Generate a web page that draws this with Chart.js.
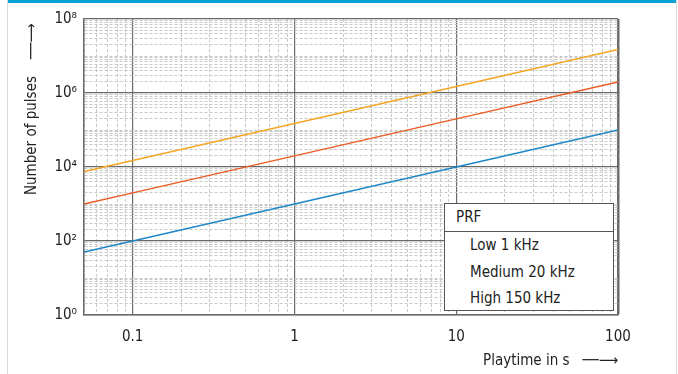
<!DOCTYPE html>
<html>
<head>
<meta charset="utf-8">
<script src="https://cdn.jsdelivr.net/npm/chart.js@4.4.1/dist/chart.umd.min.js"></script>
<style>
  html, body { margin: 0; padding: 0; background: #fff; }
  #wrap { position: relative; width: 678px; height: 374px; overflow: hidden; }
  #topbar { position: absolute; left: 8px; right: 2px; top: 0; height: 3px; background: #0aa0d6; }
  #lborder { position: absolute; left: 7px; top: 0; bottom: 0; width: 1px; background: #d5dadf; }
  #rborder { position: absolute; right: 1px; top: 0; bottom: 0; width: 1px; background: #d5dadf; }
  #legend { position: absolute; left: 444px; top: 203px; width: 168px; height: 106px; border: 1px solid #555;
    background: #fff; font-family: "DejaVu Sans Condensed", sans-serif; font-size: 15px; color: #222; }
  #legend .hd { height: 27px; line-height: 27px; padding-left: 11px; border-bottom: 1px solid #555; }
  #legend .it { height: 26.5px; line-height: 27px; padding-left: 25px; }
</style>
</head>
<body>
<div id="wrap">
  <canvas id="myChart1" width="678" height="374"></canvas>
  <div id="topbar"></div>
  <div id="lborder"></div>
  <div id="rborder"></div>
  <div id="legend">
    <div class="hd" id="legTitle"></div>
  </div>
</div>
<script>
// playtime in s (x) and number of pulses (y)
var playtime = [0.05, 0.1, 1, 10, 100];
var pulsesLow = [50, 100, 1000, 10000, 100000];
var pulsesMedium = [1000, 2000, 20000, 200000, 2000000];
var pulsesHigh = [7500, 15000, 150000, 1500000, 15000000];

var seriesNames = ['Low 1 kHz', 'Medium 20 kHz', 'High 150 kHz'];
var seriesColors = ['#1e88c8', '#ee5a24', '#f5a623'];
var legendTitle = 'PRF';

var xTickLabels = ['0.1', '1', '10', '100'];
var yTickLabels = ['10\u2070', '10\u00b2', '10\u2074', '10\u2076', '10\u2078'];
var xMin = 0.05, xMax = 100, yMin = 1, yMax = 1e8;

var FONT = '"DejaVu Sans Condensed", sans-serif';
var ARROW = '\u2500\u2500\u27f6';

// legend box
document.getElementById('legTitle').textContent = legendTitle;
seriesNames.forEach(function (n) {
    var d = document.createElement('div');
    d.className = 'it';
    d.textContent = n;
    document.getElementById('legend').appendChild(d);
});

function pts(ys) {
    return playtime.map(function (x, i) { return { x: x, y: ys[i] }; });
}

function logTicks(min, max) {
    var out = [];
    var e0 = Math.floor(Math.log10(min) + 1e-9), e1 = Math.ceil(Math.log10(max) - 1e-9);
    for (var e = e0; e <= e1; e++) {
        for (var m = 1; m <= 9; m++) {
            var v = +(m * Math.pow(10, e)).toPrecision(6);
            if (v >= min - 1e-12 && v <= max + 1e-9) out.push({ value: v });
        }
    }
    return out;
}
function isDecade(v) {
    var l = Math.log10(v);
    return Math.abs(l - Math.round(l)) < 1e-6;
}
function yMajor(v) {
    return isDecade(v) && Math.round(Math.log10(v)) % 2 === 0;
}

var datasets = [pulsesLow, pulsesMedium, pulsesHigh].map(function (ys, i) {
    return {
        label: seriesNames[i],
        data: pts(ys),
        borderColor: seriesColors[i],
        backgroundColor: seriesColors[i],
        borderWidth: 1.5,
        pointRadius: 0,
        tension: 0
    };
});

var ctx = document.getElementById('myChart1');
var myChart = new Chart(ctx, {
    type: 'line',
    data: { datasets: datasets },
    options: {
        responsive: false,
        animation: false,
        layout: { padding: { left: 0, top: 19, right: 60, bottom: 0 } },
        plugins: { legend: { display: false }, tooltip: { enabled: false } },
        scales: {
            x: {
                type: 'logarithmic',
                min: xMin, max: xMax,
                afterBuildTicks: function (s) { s.ticks = logTicks(xMin, xMax); },
                afterFit: function (s) { s.height = 59; },
                ticks: {
                    autoSkip: false, maxRotation: 0, padding: 13,
                    color: '#222', font: { family: FONT, size: 15 },
                    callback: function (v) {
                        if (!isDecade(v)) return '';
                        var s = String(+v.toPrecision(6));
                        return xTickLabels.indexOf(s) >= 0 ? s : '';
                    }
                },
                grid: {
                    drawTicks: false,
                    color: function (c) { return isDecade(c.tick.value) ? '#6a6a6a' : '#c9c9c9'; },
                    lineWidth: function (c) { return c.tick.value === xMax ? 2.5 : (isDecade(c.tick.value) ? 1.2 : 1); }
                },
                border: {
                    display: true, color: '#6a6a6a', width: 1.5,
                    dash: function (c) { return isDecade(c.tick.value) ? [] : [3, 2]; }
                },
                title: {
                    display: true, align: 'end', text: 'Playtime in s   ' + ARROW,
                    color: '#222', font: { family: FONT, size: 15 },
                    padding: { top: 0, bottom: 4 }
                }
            },
            y: {
                type: 'logarithmic',
                min: yMin, max: yMax,
                afterBuildTicks: function (s) { s.ticks = logTicks(yMin, yMax); },
                afterFit: function (s) { s.width = 84; },
                ticks: {
                    autoSkip: false, padding: 7,
                    color: '#222', font: { family: FONT, size: 15 },
                    callback: function (v) {
                        if (!yMajor(v)) return '';
                        return yTickLabels[Math.round(Math.log10(v)) / 2];
                    }
                },
                grid: {
                    drawTicks: false,
                    color: function (c) { return yMajor(c.tick.value) ? '#6a6a6a' : '#c9c9c9'; },
                    lineWidth: function (c) { return yMajor(c.tick.value) ? 1.2 : 1; }
                },
                border: {
                    display: true, color: '#6a6a6a', width: 1.5,
                    dash: function (c) { return yMajor(c.tick.value) ? [] : [3, 2]; }
                },
                title: {
                    display: true, align: 'end', text: 'Number of pulses    ' + ARROW + ' ',
                    color: '#222', font: { family: FONT, size: 15 },
                    padding: { top: 23, bottom: 0 }
                }
            }
        }
    }
});
</script>
</body>
</html>
